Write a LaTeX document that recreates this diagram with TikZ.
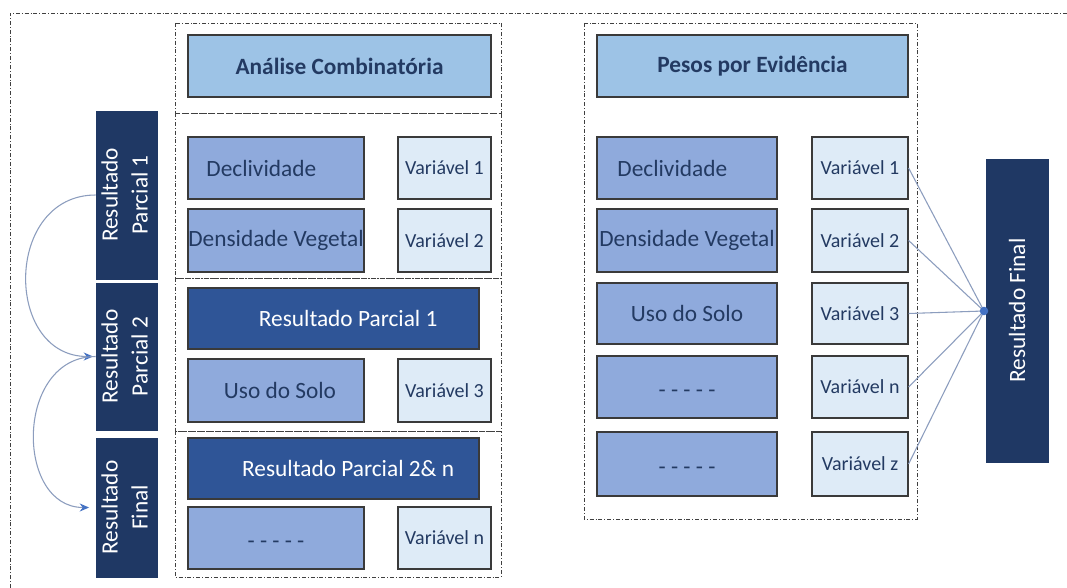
\documentclass[tikz,border=0pt]{standalone}
\usepackage{fontspec}
\setmainfont{Carlito}
\usetikzlibrary{arrows.meta}
\definecolor{hdr}{HTML}{9DC3E6}
\definecolor{mid}{HTML}{8FAADC}
\definecolor{lite}{HTML}{DEEBF7}
\definecolor{dk}{HTML}{2F5597}
\definecolor{navy}{HTML}{1F3864}
\definecolor{txt}{HTML}{233A62}
\definecolor{edge}{HTML}{3A3A3A}
\definecolor{conn}{HTML}{8C9DBE}
\definecolor{arr}{HTML}{4472C4}
\newcommand{\dashtxt}{\smash{\raisebox{-0.45em}{- - - - -}}}
\begin{document}
\begin{tikzpicture}[x=0.75pt,y=-0.75pt,
  sz/.style 2 args={minimum width=#1*0.75pt, minimum height=#2*0.75pt},
  bx/.style={draw=edge, line width=0.9pt, inner sep=0pt, text=txt, font=\fontsize{17.5}{20}\selectfont},
  hdrbox/.style={bx, fill=hdr, font=\bfseries\fontsize{17.5}{20}\selectfont},
  midbox/.style={bx, fill=mid},
  varbox/.style={bx, fill=lite, font=\fontsize{15}{18}\selectfont},
  dkbox/.style={bx, fill=dk, text=white},
  vbox/.style={draw=navy, fill=navy, inner sep=0pt, text=white, font=\fontsize{17.5}{22.5}\selectfont},
  grp/.style={draw=black!75, line width=0.6pt, dash pattern=on 3pt off 1.5pt on 0.6pt off 1.5pt},
  conn/.style={draw=conn, line width=0.8pt},
  arrowline/.style={conn, -{Stealth[length=7pt,width=6pt,color=arr]}}
]
\useasboundingbox (0,0) rectangle (1067,588);
\fill[white] (0,0) rectangle (1067,588);
\draw[grp] (10,588) -- (10,13) -- (1067,13);

% left group frames
\draw[grp] (175,23) rectangle (501,113);
\draw[grp] (175,113) rectangle (501,278);
\draw[grp] (175,278) rectangle (501,431);
\draw[grp] (175,431) rectangle (501,577);
% right group frame
\draw[grp] (584,23) rectangle (917,519);

% left group boxes
\node[hdrbox, sz={303}{62}] (ac) at (339.5,66) {Análise Combinatória};
\node[midbox, sz={176}{62}] (ad) at (276,168) {Declividade\hspace*{22pt}};
\node[varbox, sz={93}{62}] (av1) at (444.5,168) {Variável 1};
\node[midbox, sz={176}{63}] (adv) at (276,240.5) {Densidade Vegetal};
\node[varbox, sz={93}{63}] (av2) at (444.5,240.5) {Variável 2};
\node[dkbox, sz={291}{61}] (arp1) at (333.5,318.5) {\hspace*{22pt}Resultado Parcial 1};
\node[midbox, sz={176}{63}] (aus) at (276,390.5) {\hspace*{6pt}Uso do Solo};
\node[varbox, sz={93}{63}] (av3) at (444.5,390.5) {Variável 3};
\node[dkbox, sz={291}{61}] (arp2) at (333.5,468.5) {\hspace*{22pt}Resultado Parcial 2\& n};
\node[midbox, sz={176}{62}] (adash) at (276,538) {\dashtxt};
\node[varbox, sz={93}{62}] (avn) at (444.5,538) {Variável n};

% right group boxes
\node[hdrbox, sz={311}{62}] (pe) at (752.5,66) {Pesos por Evidência};
\node[midbox, sz={180}{62}] (pd) at (687,168) {Declividade\hspace*{22pt}};
\node[varbox, sz={96}{62}] (v1) at (860,168) {Variável 1};
\node[midbox, sz={180}{63}] (pdv) at (687,240.5) {Densidade Vegetal};
\node[varbox, sz={96}{63}] (v2) at (860,240.5) {Variável 2};
\node[midbox, sz={180}{61}] (pus) at (687,313.5) {Uso do Solo};
\node[varbox, sz={96}{61}] (v3) at (860,313.5) {Variável 3};
\node[midbox, sz={180}{62}] (pdash1) at (687,387) {\dashtxt};
\node[varbox, sz={96}{62}] (vn) at (860,387) {Variável n};
\node[midbox, sz={180}{64}] (pdash2) at (687,464) {\dashtxt};
\node[varbox, sz={96}{64}] (vz) at (860,464) {Variável z};

% left vertical boxes
\node[vbox, sz={61}{168}] (rp1) at (126.5,195) {\rotatebox{90}{\begin{tabular}{@{}c@{}}Resultado\\Parcial 1\end{tabular}}};
\node[vbox, sz={61}{147}] (rp2) at (126.5,356.5) {\rotatebox{90}{\begin{tabular}{@{}c@{}}Resultado\\Parcial 2\end{tabular}}};
\node[vbox, sz={61}{139}] (rpf) at (126.5,507.5) {\rotatebox{90}{\begin{tabular}{@{}c@{}}Resultado\\Final\end{tabular}}};

% right final box
\node[vbox, sz={62}{303}] (rf) at (1017,310.5) {\rotatebox{90}{Resultado Final}};

% curved arrows
\draw[arrowline, shorten >=2pt] (rp1.west) .. controls +(-92,0) and +(-92,0) .. (rp2.west);
\draw[arrowline, shorten >=5pt] (rp2.west) .. controls +(-81,0) and +(-81,0) .. (rpf.west);

% converging lines
\coordinate (hub) at (984,311);
\foreach \v in {v1,v2,v3,vn,vz} \draw[conn] (\v.east) -- (hub);
\fill[arr] (hub) circle[radius=3.2pt];
\end{tikzpicture}
\end{document}
